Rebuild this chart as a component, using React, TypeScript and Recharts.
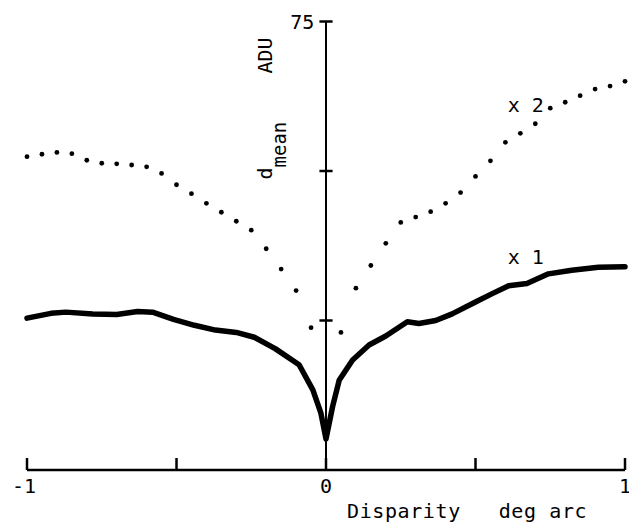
import React from 'react';
import { ComposedChart, Line, XAxis, YAxis, ReferenceLine, ReferenceDot } from 'recharts';

// x1 curve (solid)
const x1Disparity = [-1, -0.92, -0.87, -0.78, -0.7, -0.63, -0.58, -0.51, -0.44, -0.37, -0.3, -0.24, -0.17, -0.09, -0.044, -0.017, 0, 0.022, 0.044, 0.089, 0.144, 0.2, 0.272, 0.311, 0.367, 0.422, 0.5, 0.556, 0.611, 0.672, 0.744, 0.822, 0.911, 1];
const x1Mean = [25.4, 26.2, 26.4, 26.1, 26.0, 26.5, 26.4, 25.2, 24.2, 23.4, 23.0, 22.2, 20.3, 17.6, 13.4, 9.5, 5.2, 10.6, 15.0, 18.4, 20.9, 22.4, 24.8, 24.5, 25.0, 26.1, 28.1, 29.5, 30.8, 31.2, 32.8, 33.4, 33.9, 34.0];

// x2 curve (dotted)
const x2Disparity = [-1, -0.95, -0.9, -0.85, -0.8, -0.75, -0.7, -0.65, -0.6, -0.55, -0.5, -0.45, -0.4, -0.35, -0.3, -0.25, -0.2, -0.15, -0.1, -0.05,
  0.05, 0.1, 0.15, 0.2, 0.25, 0.3, 0.35, 0.4, 0.45, 0.5, 0.55, 0.6, 0.65, 0.7, 0.75, 0.8, 0.85, 0.9, 0.95, 1];
const x2Mean = [52.4, 52.8, 53.1, 52.9, 51.8, 51.3, 51.2, 51.0, 50.7, 49.6, 47.7, 46.2, 44.6, 43.1, 41.6, 40.1, 37.0, 33.6, 30.0, 23.8,
  23.0, 30.4, 34.2, 37.9, 41.4, 42.3, 43.2, 44.6, 46.4, 49.1, 51.7, 54.8, 56.3, 57.9, 60.5, 61.5, 62.6, 63.7, 64.2, 65.0];

const xTicks = [-1, -0.5, 0, 0.5, 1];
const xTickLabels = ['-1', '', '0', '', '1'];
const yTicks = [25, 50, 75];

const x1Data = x1Disparity.map((x, i) => ({ x, y: x1Mean[i] }));
const x2Data = x2Disparity.map((x, i) => ({ x, y: x2Mean[i] }));

const FONT = '"DejaVu Sans Mono", monospace';

const XTick = ({ x, y, payload }: any) => {
  const i = xTicks.indexOf(payload.value);
  const txt = xTickLabels[i];
  if (!txt) return null;
  const neg = txt.startsWith('-');
  return (
    <text x={neg ? x + 9 : x} y={y} dy={15} textAnchor={neg ? 'end' : 'middle'} fontFamily={FONT} fontSize={20} fill="#000">
      {txt}
    </text>
  );
};

const XLabel = ({ viewBox }: any) => (
  <text x={viewBox.x + 320} y={viewBox.y + 48} fontFamily={FONT} fontSize={20} letterSpacing={0.6} fill="#000" style={{ whiteSpace: 'pre' }}>
    {'Disparity   deg arc'}
  </text>
);

const YTitle = ({ viewBox }: any) => {
  const ax = viewBox.x;
  const top = viewBox.y;
  return (
    <g fontFamily={FONT} fill="#000">
      <text transform={`translate(${ax - 54}, ${top + 34}) rotate(-90)`} textAnchor="middle" fontSize={20}>ADU</text>
      <text transform={`translate(${ax - 54}, ${top + 158}) rotate(-90)`} fontSize={20}>
        d<tspan dy={14} fontSize={19}>mean</tspan>
      </text>
    </g>
  );
};

export default function App() {
  return (
    <ComposedChart width={629} height={516} margin={{ top: 13.5, right: 12, bottom: 4, left: 19 }}>
      <XAxis
        dataKey="x"
        type="number"
        domain={[-1, 1]}
        ticks={xTicks}
        height={50}
        axisLine={{ stroke: '#000', strokeWidth: 2.5 }}
        tickLine={false}
        tick={<XTick />}
        label={<XLabel />}
      />
      <YAxis type="number" domain={[0, 75]} hide />
      <ReferenceLine x={0} stroke="#000" strokeWidth={2} label={<YTitle />} />
      {xTicks.map((t) => (
        <ReferenceLine key={`xt${t}`} segment={[{ x: t, y: 0 }, { x: t, y: 2 }]} stroke="#000" strokeWidth={2.5} />
      ))}
      {yTicks.map((t) => (
        <ReferenceLine
          key={`yt${t}`}
          segment={[{ x: -0.022, y: t }, { x: 0.022, y: t }]}
          stroke="#000"
          strokeWidth={2.5}
          label={t === 75 ? { value: '75', position: 'left', fontFamily: FONT, fontSize: 20, fill: '#000' } : undefined}
        />
      ))}
      <Line data={x1Data} dataKey="y" type="linear" stroke="#000" strokeWidth={5.5} dot={false} isAnimationActive={false} strokeLinejoin="round" strokeLinecap="round" />
      <Line data={x2Data} dataKey="y" type="linear" stroke="none" dot={{ r: 2.4, fill: '#000', stroke: 'none' }} isAnimationActive={false} />
      <ReferenceDot x={0.668} y={61} r={0} label={{ value: 'x 2', fontFamily: FONT, fontSize: 20, fill: '#000' }} />
      <ReferenceDot x={0.668} y={35.7} r={0} label={{ value: 'x 1', fontFamily: FONT, fontSize: 20, fill: '#000' }} />
    </ComposedChart>
  );
}
